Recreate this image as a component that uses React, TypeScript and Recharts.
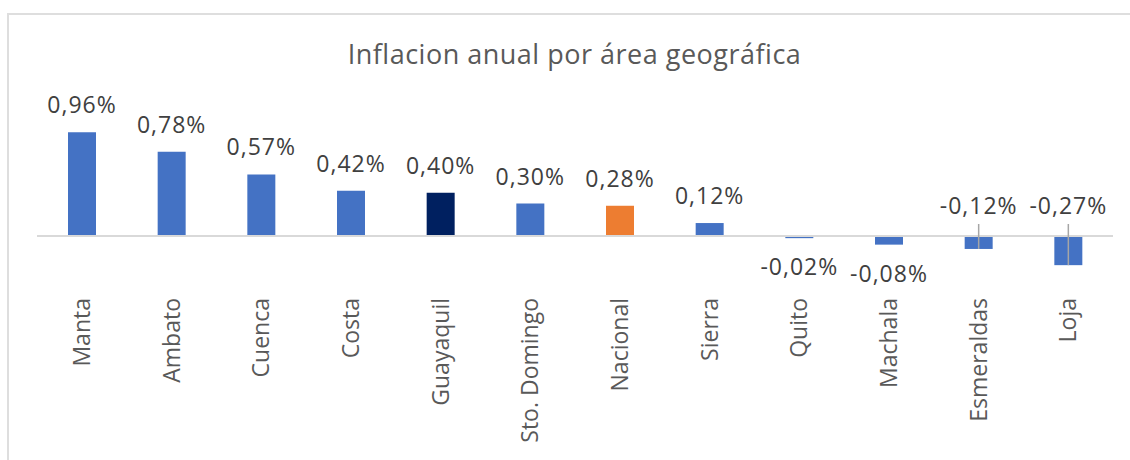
import { Bar, BarChart, Cell, LabelList, ReferenceLine, XAxis, YAxis } from 'recharts'

const FONT = '"Open Sans", "Noto Sans", sans-serif'

const categories = [
  'Manta',
  'Ambato',
  'Cuenca',
  'Costa',
  'Guayaquil',
  'Sto. Domingo',
  'Nacional',
  'Sierra',
  'Quito',
  'Machala',
  'Esmeraldas',
  'Loja',
]
const inflation = [0.96, 0.78, 0.57, 0.42, 0.4, 0.3, 0.28, 0.12, -0.02, -0.08, -0.12, -0.27]

const data = categories.map((name, i) => ({ name, value: inflation[i] }))

// bars painted differently from the default blue
const highlight: Record<string, string> = {
  Guayaquil: '#002060',
  Nacional: '#ED7D31',
}
// labels moved above the axis with a leader line back to the bar
const leaderLabels = ['Esmeraldas', 'Loja']

const fmt = (v: number) => `${v.toFixed(2).replace('.', ',')}%`

const CategoryTick = ({ x, y, payload }: any) => (
  <text
    x={0}
    y={0}
    transform={`translate(${x},${y}) rotate(-90)`}
    textAnchor="end"
    dy="0.36em"
    fill="#595959"
    fontSize={23}
    fontFamily={FONT}
  >
    {payload.value}
  </text>
)

const ValueLabel = (props: any) => {
  const vb = props.viewBox ?? props
  const x = Number(vb.x ?? props.x)
  const y = Number(vb.y ?? props.y)
  const w = Number(vb.width ?? props.width)
  const h = Number(vb.height ?? props.height)
  const value = Number(props.value)
  const top = Math.min(y, y + h)
  const bottom = Math.max(y, y + h)
  const cx = x + w / 2
  const textProps = {
    x: cx,
    textAnchor: 'middle' as const,
    fill: '#404040',
    fontSize: 23,
    letterSpacing: 1,
    fontFamily: FONT,
  }

  if (value >= 0) {
    return <text {...textProps} y={top - 19}>{fmt(value)}</text>
  }
  const name = categories[props.index] ?? categories[inflation.indexOf(value)]
  if (leaderLabels.includes(name)) {
    return (
      <g>
        <line x1={cx} x2={cx} y1={top - 12} y2={bottom} stroke="#a6a6a6" strokeWidth={1.5} />
        <text {...textProps} y={top - 22}>{fmt(value)}</text>
      </g>
    )
  }
  return <text {...textProps} y={bottom + 37}>{fmt(value)}</text>
}

export default function App() {
  return (
    <div style={{ position: 'fixed', left: 0, top: 0, width: 1130, height: 460, overflow: 'hidden', background: '#fff' }}>
      <div
        style={{
          position: 'absolute',
          left: 7,
          top: 13,
          width: 1200,
          height: 500,
          border: '2px solid #dedede',
        }}
      />
      <div
        style={{
          position: 'absolute',
          left: 0,
          top: 40,
          width: 1149,
          textAlign: 'center',
          fontFamily: FONT,
          fontSize: 27,
          lineHeight: '27px',
          letterSpacing: 0.5,
          color: '#595959',
        }}
      >
        Inflacion anual por área geográfica
      </div>
      <div style={{ position: 'absolute', left: 0, top: 0 }}>
        <BarChart width={1130} height={460} data={data} margin={{ top: 128, right: 17, bottom: 0, left: 37 }}>
          <YAxis hide domain={[-0.5, 1]} allowDataOverflow />
          <XAxis
            dataKey="name"
            interval={0}
            axisLine={false}
            tickLine={false}
            height={170}
            tick={<CategoryTick />}
          />
          <ReferenceLine y={0} stroke="#d9d9d9" strokeWidth={2} />
          <Bar dataKey="value" barSize={28} fill="#4472C4" isAnimationActive={false}>
            {data.map(d => (
              <Cell key={d.name} fill={highlight[d.name] ?? '#4472C4'} />
            ))}
            <LabelList dataKey="value" content={<ValueLabel />} />
          </Bar>
        </BarChart>
      </div>
    </div>
  )
}
